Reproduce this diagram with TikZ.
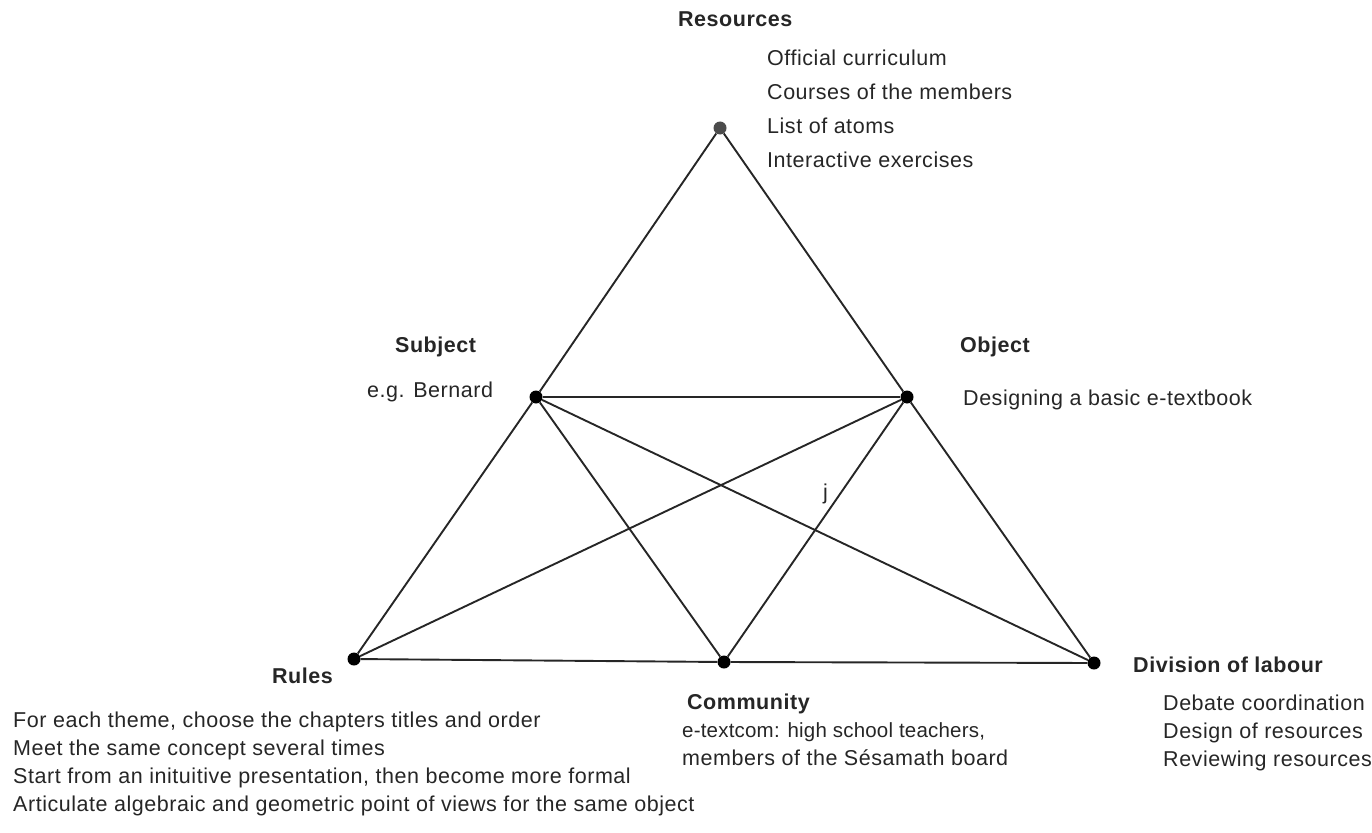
\documentclass[tikz,border=0pt]{standalone}
\usepackage{fontspec}
\setmainfont{Liberation Sans}[LetterSpace=2.5]
\begin{document}
\begin{tikzpicture}[x=1pt,y=-1pt,
  vtx/.style={circle,fill=black,inner sep=0pt,minimum size=13pt},
  topvtx/.style={circle,fill=black!70,inner sep=0pt,minimum size=13pt},
  edge/.style={draw=black!85,line width=1.9pt},
  lbl/.style={inner sep=0pt,anchor=base west,font=\fontsize{21.5}{24}\selectfont\bfseries,text=black!85},
  txt/.style={inner sep=0pt,anchor=base west,font=\fontsize{21.5}{24}\selectfont,text=black!85}]
\useasboundingbox (0,0) rectangle (1372,832);
% vertices
\node[topvtx] (res) at (720,128) {};
\node[vtx] (sub) at (536,397) {};
\node[vtx] (obj) at (907,397) {};
\node[vtx] (rul) at (354,659) {};
\node[vtx] (com) at (724,662) {};
\node[vtx] (div) at (1094,663) {};
% edges
\draw[edge] (res) -- (sub);
\draw[edge] (res) -- (obj);
\draw[edge] (sub) -- (obj);
\draw[edge] (sub) -- (rul);
\draw[edge] (obj) -- (div);
\draw[edge] (rul) -- (com);
\draw[edge] (com) -- (div);
\draw[edge] (sub) -- (com);
\draw[edge] (sub) -- (div);
\draw[edge] (obj) -- (rul);
\draw[edge] (obj) -- (com);
% labels
\node[lbl] (lres) at (678,27) {Resources};
\node[txt] (res1) at (767,66) {Official curriculum};
\node[txt] (res2) at (767,100) {Courses of the members};
\node[txt] (res3) at (767,133.5) {List of atoms};
\node[txt] (res4) at (767,167) {Interactive exercises};
\node[lbl] (lsub) at (395,352) {Subject};
\node[txt] (sub1) at (367,397) {e.g. Bernard};
\node[lbl] (lobj) at (960,352) {Object};
\node[txt] (obj1) at (963,405) {Designing a basic e-textbook};
\node[txt] (jj) at (823,499) {j};
\node[lbl] (lrul) at (272,683) {Rules};
\node[txt] (rul1) at (13,727) {For each theme, choose the chapters titles and order};
\node[txt] (rul2) at (13,755) {Meet the same concept several times};
\node[txt] (rul3) at (13,783) {Start from an inituitive presentation, then become more formal};
\node[txt] (rul4) at (13,811) {Articulate algebraic and geometric point of views for the same object};
\node[lbl] (lcom) at (687,709) {Community};
\node[txt,font=\fontsize{20.5}{24}\selectfont\addfontfeature{LetterSpace=1}] (com1) at (682,737) {e-textcom: high school teachers,};
\node[txt] (com2) at (682,765) {members of the Sésamath board};
\node[lbl] (ldiv) at (1133,672) {Division of labour};
\node[txt] (div1) at (1163,710) {Debate coordination};
\node[txt] (div2) at (1163,738) {Design of resources};
\node[txt] (div3) at (1163,766) {Reviewing resources};
\end{tikzpicture}
\end{document}
